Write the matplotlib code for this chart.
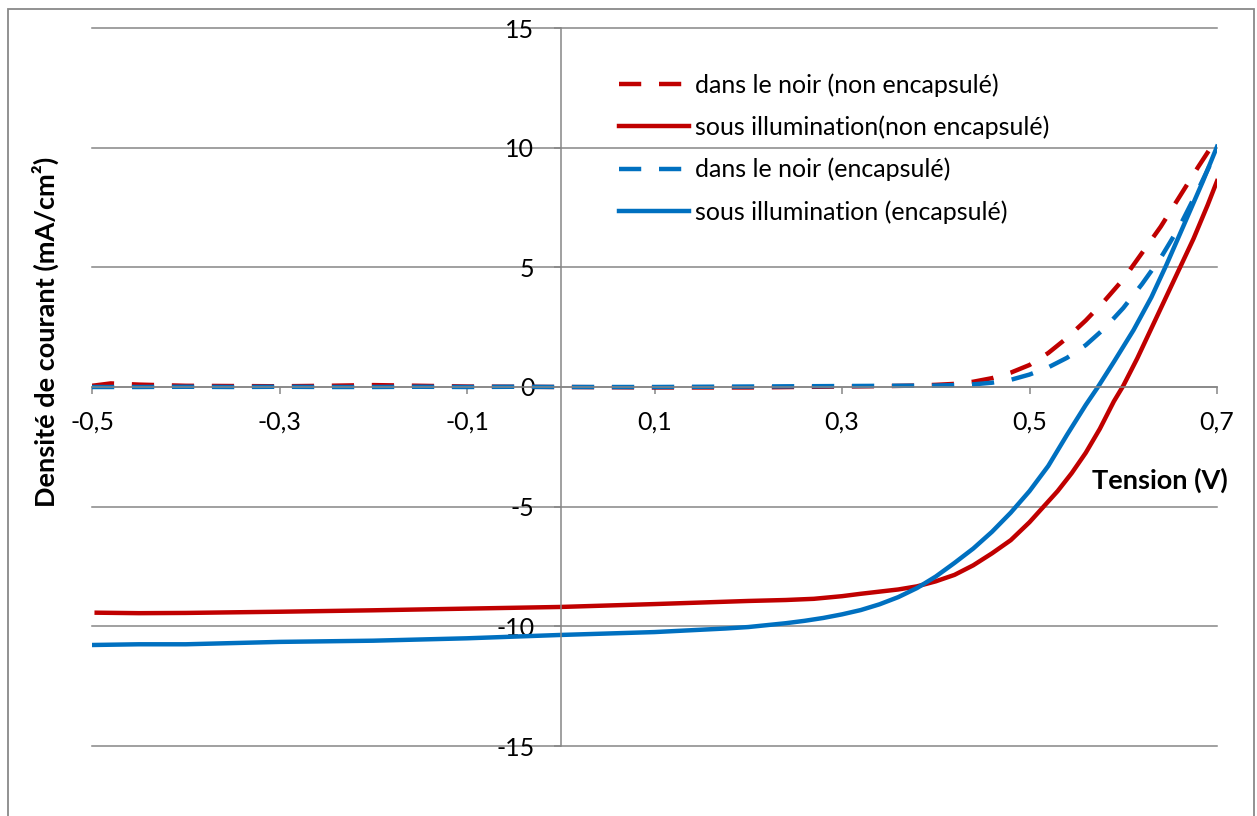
import matplotlib
matplotlib.use("Agg")
import matplotlib.pyplot as plt
from matplotlib.patches import Rectangle

plt.rcParams['font.family'] = ['Lato', 'DejaVu Sans']
plt.rcParams['axes.unicode_minus'] = False

# Tension (V) / densite de courant (mA/cm2)
v_noir_ne = [-0.5, -0.48, -0.45, -0.4, -0.35, -0.3, -0.25, -0.2, -0.15, -0.1, -0.05, 0.0,
             0.05, 0.1, 0.15, 0.2, 0.25, 0.3, 0.35, 0.38, 0.4, 0.42, 0.44, 0.46, 0.48,
             0.5, 0.52, 0.54, 0.56, 0.58, 0.6, 0.62, 0.64, 0.66, 0.68, 0.7]
j_noir_ne = [0.05, 0.15, 0.1, 0.05, 0.04, 0.03, 0.05, 0.08, 0.05, 0.02, 0.01, 0.0,
             -0.01, -0.02, -0.02, -0.02, 0.0, 0.02, 0.04, 0.06, 0.09, 0.13, 0.22, 0.37, 0.6,
             0.92, 1.42, 2.05, 2.78, 3.6, 4.5, 5.6, 6.7, 7.95, 9.2, 10.4]

v_illum_ne = [-0.495, -0.45, -0.4, -0.3, -0.2, -0.1, 0.0, 0.1, 0.2, 0.24, 0.27, 0.3,
              0.32, 0.34, 0.36, 0.38, 0.4, 0.42, 0.44, 0.46, 0.48, 0.5, 0.515, 0.53,
              0.545, 0.56, 0.575, 0.59, 0.6, 0.615, 0.63, 0.645, 0.66, 0.675, 0.69, 0.7]
j_illum_ne = [-9.43, -9.45, -9.44, -9.39, -9.33, -9.26, -9.19, -9.07, -8.94, -8.9, -8.85,
              -8.74, -8.64, -8.55, -8.46, -8.33, -8.12, -7.85, -7.45, -6.95, -6.4, -5.65,
              -5.0, -4.35, -3.6, -2.75, -1.75, -0.6, 0.05, 1.2, 2.45, 3.7, 4.95, 6.2,
              7.6, 8.6]

v_noir_e = [-0.5, -0.45, -0.4, -0.35, -0.3, -0.25, -0.2, -0.15, -0.1, -0.05, 0.0, 0.05,
            0.1, 0.15, 0.2, 0.25, 0.3, 0.35, 0.4, 0.42, 0.44, 0.46, 0.48, 0.5, 0.52, 0.54,
            0.56, 0.58, 0.6, 0.62, 0.64, 0.66, 0.68, 0.7]
j_noir_e = [0.0, 0.0, 0.01, 0.0, 0.01, 0.0, 0.0, 0.01, 0.0, 0.01, 0.0, 0.0,
            0.0, 0.01, 0.02, 0.03, 0.04, 0.05, 0.06, 0.08, 0.11, 0.18, 0.3, 0.52, 0.82,
            1.22, 1.75, 2.45, 3.3, 4.3, 5.4, 6.7, 8.25, 9.9]

v_illum_e = [-0.5, -0.45, -0.4, -0.3, -0.2, -0.1, 0.0, 0.1, 0.176, 0.2, 0.22, 0.24,
             0.26, 0.28, 0.3, 0.32, 0.34, 0.36, 0.38, 0.4, 0.42, 0.44, 0.46, 0.48, 0.5,
             0.52, 0.54, 0.56, 0.573, 0.59, 0.611, 0.63, 0.646, 0.665, 0.685, 0.7]
j_illum_e = [-10.78, -10.75, -10.75, -10.65, -10.6, -10.5, -10.36, -10.24, -10.09, -10.03,
             -9.95, -9.87, -9.77, -9.65, -9.5, -9.32, -9.08, -8.78, -8.4, -7.92, -7.35,
             -6.75, -6.05, -5.25, -4.35, -3.3, -2.0, -0.75, 0.0, 1.05, 2.38, 3.75, 5.1,
             6.8, 8.6, 10.04]

x_ticks = [-0.5, -0.3, -0.1, 0.1, 0.3, 0.5, 0.7]
x_labels = ['-0,5', '-0,3', '-0,1', '0,1', '0,3', '0,5', '0,7']
y_ticks = [-15, -10, -5, 0, 5, 10, 15]

red = '#C00000'
blue = '#0070C0'
grey = '#868686'

fig = plt.figure(figsize=(12.57, 8.16), dpi=100)
ax = fig.add_axes([92 / 1257, 1 - 746 / 816, 1125 / 1257, 718 / 816])

ax.plot(v_noir_ne, j_noir_ne, color=red, lw=3.2, dashes=(5, 4), label='dans le noir (non encapsulé)')
ax.plot(v_illum_ne, j_illum_ne, color=red, lw=3.2, label='sous illumination(non encapsulé)')
ax.plot(v_noir_e, j_noir_e, color=blue, lw=3.2, dashes=(5, 4), label='dans le noir (encapsulé)')
ax.plot(v_illum_e, j_illum_e, color=blue, lw=3.2, label='sous illumination (encapsulé)')

ax.set_xlim(-0.5, 0.7)
ax.set_ylim(-15, 15)
ax.set_xticks(x_ticks)
ax.set_xticklabels(x_labels)
ax.set_yticks(y_ticks)

# axes crossing at zero, Excel style
for side in ['top', 'right']:
    ax.spines[side].set_visible(False)
ax.spines['left'].set_position(('data', 0))
ax.spines['bottom'].set_position(('data', 0))
for side in ['left', 'bottom']:
    ax.spines[side].set_color(grey)
    ax.spines[side].set_linewidth(1.1)
ax.tick_params(axis='both', direction='out', length=5, width=1.1, color=grey,
               labelsize=18, labelcolor='black')
ax.tick_params(axis='x', pad=12)
ax.tick_params(axis='y', pad=14)

ax.yaxis.grid(True, color=grey, lw=1.1)
for gl in ax.get_ygridlines():
    gl.set_clip_on(False)

ax.legend(loc='upper left', bbox_to_anchor=(619 / 1257, 1 - 73 / 816),
          bbox_transform=fig.transFigure, frameon=False, fontsize=18,
          handlelength=2.8, handletextpad=0.25, labelspacing=0.75,
          borderpad=0, borderaxespad=0)

fig.text(45 / 1257, 1 - 332 / 816, 'Densité de courant (mA/cm²)', rotation=90,
         fontweight='bold', fontsize=19.5, ha='center', va='center')
fig.text(1160 / 1257, 1 - 480 / 816, 'Tension (V)', fontweight='bold', fontsize=19.5,
         ha='center', va='center')

# outer chart border
fig.patches.append(Rectangle((8 / 1257, -0.02), (1254 - 8) / 1257, (816 - 9) / 816 + 0.02,
                             transform=fig.transFigure, fill=False, edgecolor='#898989', lw=1.3))

fig.savefig('out.png', dpi=100)
